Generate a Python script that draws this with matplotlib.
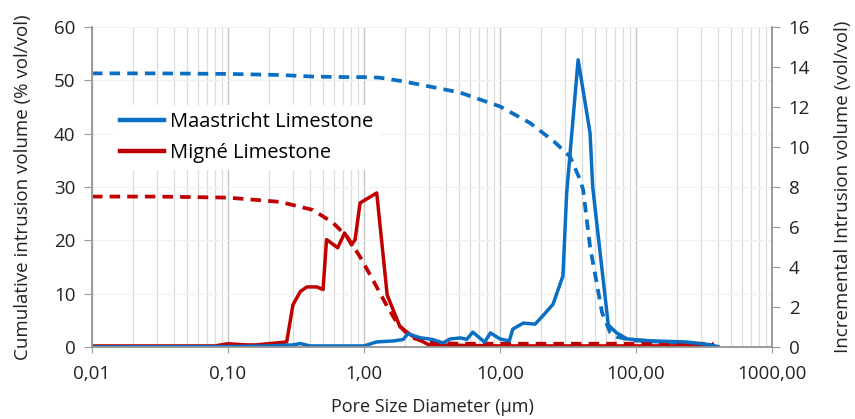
import numpy as np
import matplotlib.pyplot as plt
from matplotlib.ticker import FixedLocator, LogLocator, NullFormatter

plt.rcParams['font.family'] = ['Open Sans', 'DejaVu Sans']

# cumulative intrusion (% vol/vol), left axis, dashed
maa_cum_d = [0.01, 0.03, 0.1, 0.24, 0.42, 0.75, 1.0, 1.3, 1.84, 2.58, 5.08, 10.0, 16.6,
             25.0, 32.7, 38.7, 40.8, 45.9, 56.3, 64.6, 72.0, 85.0, 100.0, 200.0, 400.0]
maa_cum = [51.3, 51.3, 51.2, 51.0, 50.7, 50.6, 50.6, 50.5, 49.9, 49.2, 47.7, 45.1, 42.0,
           38.5, 35.7, 31.4, 29.5, 18.8, 6.4, 2.7, 1.9, 1.5, 1.2, 0.8, 0.3]
mig_cum_d = [0.01, 0.03, 0.1, 0.241, 0.42, 0.59, 0.75, 0.935, 1.16, 1.48, 1.75, 2.18, 2.9,
             5.0, 20.0, 100.0, 370.0]
mig_cum = [28.2, 28.2, 28.0, 27.2, 25.7, 23.3, 20.7, 16.9, 12.6, 7.6, 4.5, 1.9, 0.8,
           0.6, 0.6, 0.6, 0.6]

# incremental intrusion (vol/vol), right axis, solid
maa_inc_d = [0.01, 0.1, 0.2, 0.3, 0.34, 0.4, 1.0, 1.24, 1.64, 1.94, 2.1, 2.58, 3.2, 3.8,
             4.3, 5.1, 5.7, 6.3, 7.7, 8.5, 10.0, 11.7, 12.4, 14.8, 18.1, 20.6, 24.5,
             29.0, 30.9, 37.5, 45.9, 48.0, 62.5, 72.0, 86.0, 130.0, 233.0, 310.0, 400.0]
maa_inc = [0.0, 0.02, 0.05, 0.1, 0.17, 0.05, 0.05, 0.25, 0.3, 0.37, 0.66, 0.46, 0.37, 0.2,
           0.4, 0.45, 0.38, 0.74, 0.24, 0.7, 0.4, 0.3, 0.89, 1.19, 1.14, 1.55, 2.13,
           3.55, 7.7, 14.36, 10.7, 8.0, 1.1, 0.7, 0.4, 0.3, 0.25, 0.15, 0.02]
mig_inc_d = [0.01, 0.05, 0.08, 0.1, 0.138, 0.16, 0.19, 0.254, 0.27, 0.30, 0.34, 0.38, 0.45,
             0.5, 0.53, 0.64, 0.72, 0.81, 0.86, 0.935, 1.24, 1.48, 1.84, 2.25, 3.0,
             10.0, 100.0, 370.0]
mig_inc = [0.05, 0.05, 0.05, 0.16, 0.1, 0.1, 0.15, 0.23, 0.25, 2.1, 2.77, 3.0, 3.0,
           2.87, 5.37, 4.96, 5.7, 5.1, 5.37, 7.2, 7.7, 2.6, 1.0, 0.56, 0.1,
           0.05, 0.05, 0.05]

xticks = [0.01, 0.1, 1, 10, 100, 1000]
xlabels = ['0,01', '0,10', '1,00', '10,00', '100,00', '1000,00']

blue = '#0a6fc2'
red = '#c00000'
txt = '#222222'

fig, ax = plt.subplots(figsize=(8.55, 4.19), dpi=100)
fig.subplots_adjust(left=0.1076, right=0.903, top=0.9356, bottom=0.172)
ax2 = ax.twinx()

ax.set_xscale('log')
ax.set_xlim(0.01, 1000)
ax.set_ylim(0, 60)
ax2.set_ylim(0, 16)
ax.set_yticks(np.arange(0, 61, 10))
ax2.set_yticks(np.arange(0, 17, 2))
ax.xaxis.set_major_locator(FixedLocator(xticks))
ax.set_xticklabels(xlabels)
ax.xaxis.set_minor_locator(LogLocator(base=10, subs=np.arange(2, 10)))
ax.xaxis.set_minor_formatter(NullFormatter())

ax.grid(True, which='major', axis='x', color='#c4c4c4', lw=1.0)
ax.grid(True, which='minor', axis='x', color='#dcdcdc', lw=0.9)
ax.grid(True, which='major', axis='y', color='#f0f0f0', lw=0.8)
ax.set_axisbelow(True)

dash = (0, (2.8, 1.9))
ax.plot(maa_cum_d, maa_cum, color=blue, lw=2.7, ls=dash)
ax.plot(mig_cum_d, mig_cum, color=red, lw=2.7, ls=dash)
ax2.plot(mig_inc_d, mig_inc, color=red, lw=2.5, label='Migné Limestone')
ax2.plot(maa_inc_d, maa_inc, color=blue, lw=2.5, label='Maastricht Limestone')

h, l = ax2.get_legend_handles_labels()
leg = ax2.legend(h[::-1], l[::-1], loc='upper left', bbox_to_anchor=(0.031, 0.757),
                 frameon=True, fontsize=14.5, handlelength=2.2, handletextpad=0.3,
                 borderpad=0.35, labelspacing=0.55, framealpha=1, borderaxespad=0)
leg.get_frame().set_edgecolor('white')
leg.get_frame().set_linewidth(0)
for ln in leg.get_lines():
    ln.set_linewidth(3.2)

for a in (ax, ax2):
    a.spines['top'].set_visible(False)
    for s in ('left', 'right', 'bottom'):
        a.spines[s].set_color('#9a9a9a')
        a.spines[s].set_linewidth(1.2)
    a.tick_params(colors='#9a9a9a', labelcolor=txt, labelsize=13.5, length=6, pad=6)
ax.tick_params(axis='x', which='major', length=4, pad=9)
ax.tick_params(axis='x', which='minor', length=0)

ax.set_xlabel('Pore Size Diameter (µm)', fontsize=13, color=txt, labelpad=11)
ax.set_ylabel('Cumulative intrusion volume (% vol/vol)', fontsize=13.5, color=txt,
              labelpad=16)
ax2.set_ylabel('Incremental Intrusion volume (vol/vol)', fontsize=13.5, color=txt,
               labelpad=17)

fig.savefig('out.png', dpi=100)
